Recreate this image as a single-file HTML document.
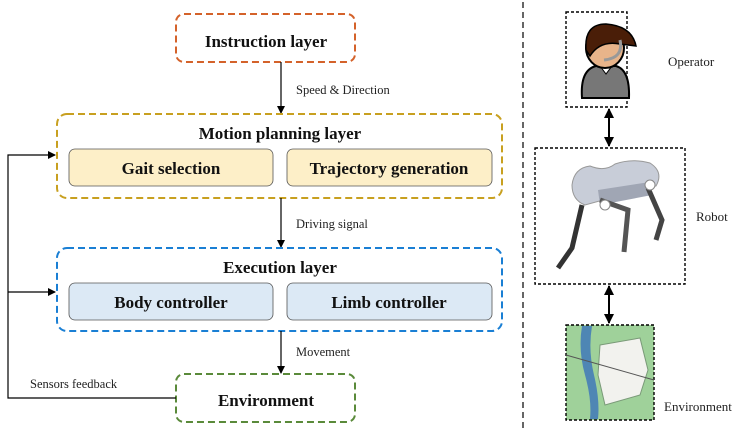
<!DOCTYPE html>
<html><head><meta charset="utf-8"><style>
html,body{margin:0;padding:0;background:#fff;}
svg{display:block;font-family:"Liberation Serif",serif;}
.t{font-weight:bold;font-size:17px;text-anchor:middle;fill:#111;}
.s{font-size:12.5px;fill:#222;}
</style></head><body>
<svg width="750" height="432" viewBox="0 0 750 432">
<defs>
<marker id="a" markerWidth="8" markerHeight="8" refX="7" refY="4" orient="auto" markerUnits="userSpaceOnUse"><path d="M0,0 L8,4 L0,8 Z" fill="#000"/></marker>
<marker id="b" markerWidth="10" markerHeight="10" refX="9" refY="5" orient="auto-start-reverse" markerUnits="userSpaceOnUse"><path d="M0,0 L10,5 L0,10 Z" fill="#000"/></marker>
</defs>
<rect x="176" y="14" width="179" height="48" rx="8" fill="none" stroke="#d4622a" stroke-width="2" stroke-dasharray="7,4"/>
<text class="t" x="266" y="47">Instruction layer</text>
<line x1="281" y1="62" x2="281" y2="113" stroke="#000" stroke-width="1.2" marker-end="url(#a)"/>
<text class="s" x="296" y="94">Speed &amp; Direction</text>
<rect x="57" y="114" width="445" height="84" rx="10" fill="none" stroke="#c8a020" stroke-width="2" stroke-dasharray="7,4"/>
<text class="t" x="280" y="139">Motion planning layer</text>
<rect x="69" y="149" width="204" height="37" rx="6" fill="#fdefc8" stroke="#555" stroke-width="0.8"/>
<text class="t" x="171" y="174">Gait selection</text>
<rect x="287" y="149" width="205" height="37" rx="6" fill="#fdefc8" stroke="#555" stroke-width="0.8"/>
<text class="t" x="389" y="174">Trajectory generation</text>
<line x1="281" y1="198" x2="281" y2="247" stroke="#000" stroke-width="1.2" marker-end="url(#a)"/>
<text class="s" x="296" y="228">Driving signal</text>
<rect x="57" y="248" width="445" height="83" rx="10" fill="none" stroke="#1a7fd4" stroke-width="2" stroke-dasharray="7,4"/>
<text class="t" x="280" y="273">Execution layer</text>
<rect x="69" y="283" width="204" height="37" rx="6" fill="#dce9f5" stroke="#555" stroke-width="0.8"/>
<text class="t" x="171" y="308">Body controller</text>
<rect x="287" y="283" width="205" height="37" rx="6" fill="#dce9f5" stroke="#555" stroke-width="0.8"/>
<text class="t" x="389" y="308">Limb controller</text>
<line x1="281" y1="331" x2="281" y2="373" stroke="#000" stroke-width="1.2" marker-end="url(#a)"/>
<text class="s" x="296" y="356">Movement</text>
<rect x="176" y="374" width="179" height="48" rx="8" fill="none" stroke="#5a8a3a" stroke-width="2" stroke-dasharray="7,4"/>
<text class="t" x="266" y="406">Environment</text>
<polyline points="176,398 8,398 8,155 55,155" fill="none" stroke="#000" stroke-width="1.2" marker-end="url(#a)"/>
<line x1="8" y1="292" x2="55" y2="292" stroke="#000" stroke-width="1.2" marker-end="url(#a)"/>
<text class="s" x="30" y="388">Sensors feedback</text>
<line x1="523" y1="2" x2="523" y2="432" stroke="#000" stroke-width="1.2" stroke-dasharray="6,4"/>
<rect x="566" y="12" width="61" height="95" fill="none" stroke="#000" stroke-width="1.4" stroke-dasharray="3,2"/>
<path d="M582,98 Q580,70 596,66 L616,66 Q630,70 629,98 Z" fill="#777" stroke="#000" stroke-width="2"/>
<path d="M600,66 L606,74 L612,66 Z" fill="#fff" stroke="#000"/>
<ellipse cx="605" cy="48" rx="19" ry="20" fill="#e8b48a" stroke="#000" stroke-width="2"/>
<path d="M586,50 Q584,24 606,24 Q632,26 636,46 L620,44 Q600,40 590,56 Z" fill="#4a1e08" stroke="#000" stroke-width="1.5"/>
<path d="M620,40 Q624,58 604,60" fill="none" stroke="#999" stroke-width="3"/>
<text class="s" x="668" y="66" style="font-size:13px">Operator</text>
<line x1="609" y1="109" x2="609" y2="146" stroke="#000" stroke-width="2" marker-start="url(#b)" marker-end="url(#b)"/>
<rect x="535" y="148" width="150" height="136" fill="none" stroke="#000" stroke-width="1.4" stroke-dasharray="3,2"/>
<path d="M572,185 Q574,168 590,166 Q605,172 615,164 Q632,158 650,163 Q664,172 656,186 L625,194 L585,205 Q572,200 572,185 Z" fill="#c8cdd8" stroke="#999"/>
<path d="M598,190 L650,182 L652,195 L600,205 Z" fill="#a0a6b4"/>
<polyline points="582,205 572,248 558,268" fill="none" stroke="#333" stroke-width="5"/>
<polyline points="600,200 628,210 624,252" fill="none" stroke="#555" stroke-width="5"/>
<polyline points="648,188 662,220 656,240" fill="none" stroke="#444" stroke-width="5"/>
<circle cx="605" cy="205" r="5" fill="#fff" stroke="#888"/>
<circle cx="650" cy="185" r="5" fill="#fff" stroke="#888"/>
<text class="s" x="696" y="221" style="font-size:13px">Robot</text>
<line x1="609" y1="286" x2="609" y2="323" stroke="#000" stroke-width="2" marker-start="url(#b)" marker-end="url(#b)"/>
<rect x="566" y="325" width="88" height="95" fill="#9fd19a" stroke="#000" stroke-width="1.4" stroke-dasharray="3,2"/>
<path d="M582,326 Q578,350 585,375 Q592,400 590,419 L598,419 Q600,400 594,375 Q588,350 592,326 Z" fill="#4e86b4"/>
<path d="M600,345 L640,338 L648,370 L640,395 L605,405 L598,375 Z" fill="#f2f2ee" stroke="#7a9a78" stroke-width="1"/>
<line x1="566" y1="355" x2="654" y2="380" stroke="#555" stroke-width="1"/>
<text class="s" x="664" y="411" style="font-size:13px">Environment</text>
</svg>
</body></html>
